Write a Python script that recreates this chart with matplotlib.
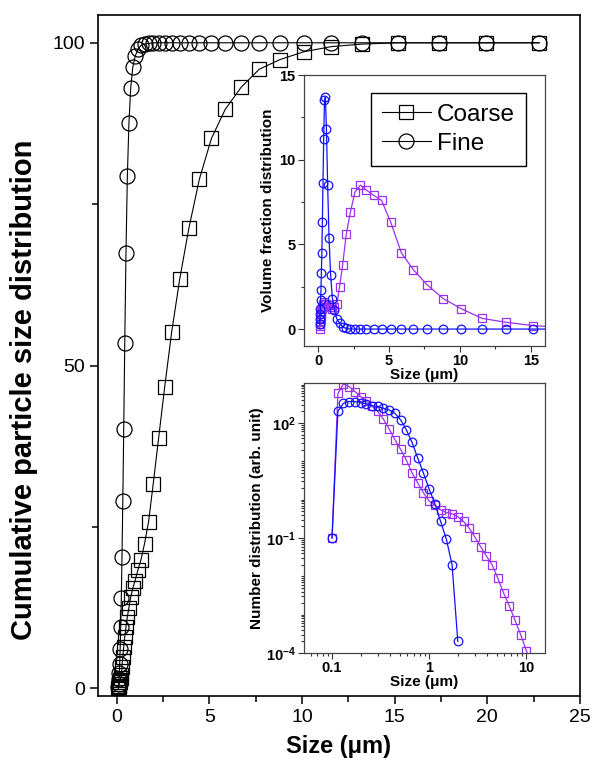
import numpy as np
import matplotlib
matplotlib.use("Agg")
import matplotlib.pyplot as plt
from matplotlib.ticker import MultipleLocator, LogLocator, NullFormatter, FixedLocator, FixedFormatter

plt.rcParams['font.family'] = ['Liberation Sans', 'DejaVu Sans']
plt.rcParams['mathtext.fontset'] = 'custom'
plt.rcParams['mathtext.rm'] = 'Liberation Sans'
plt.rcParams['mathtext.bf'] = 'Liberation Sans:bold'

# particle size channels (um)
size = [0.100, 0.115, 0.131, 0.150, 0.172, 0.197, 0.226, 0.259, 0.296, 0.339,
        0.389, 0.445, 0.510, 0.584, 0.669, 0.766, 0.877, 1.005, 1.151, 1.318,
        1.510, 1.729, 1.981, 2.269, 2.599, 2.976, 3.409, 3.905, 4.472, 5.122,
        5.867, 6.720, 7.697, 8.816, 10.097, 11.565, 13.246, 15.172, 17.377, 19.904,
        22.797]

# cumulative distribution (%)
fine_cum = [0.2, 0.7, 1.4, 2.4, 3.8, 6.1, 9.5, 14.0, 20.4, 29.0,
            40.1, 53.5, 67.4, 79.3, 87.5, 93.0, 96.2, 97.9, 99.0, 99.6,
            99.8, 99.9, 100, 100, 100, 100, 100, 100, 100, 100,
            100, 100, 100, 100, 100, 100, 100, 100, 100, 100,
            100]
coarse_cum = [0.0, 0.2, 0.4, 0.7, 1.0, 1.3, 1.6, 2.0, 3.3, 4.9,
              6.4, 8.0, 9.5, 11.1, 12.5, 14.1, 15.5, 16.7, 18.3, 19.9,
              22.4, 25.8, 31.7, 38.7, 46.7, 55.2, 63.4, 71.3, 78.9, 85.2,
              89.7, 93.1, 95.9, 97.4, 98.6, 99.4, 99.8, 100, 100, 100,
              100]

# volume fraction distribution (%)
fine_vol = [0.3, 0.6, 0.9, 1.2, 1.7, 2.3, 3.3, 4.5, 6.3, 8.6,
            11.2, 13.5, 13.7, 11.8, 8.5, 5.4, 3.2, 1.8, 1.1, 0.6,
            0.35, 0.12, 0.04, 0, 0, 0, 0, 0, 0, 0,
            0, 0, 0, 0, 0, 0, 0, 0, 0, 0,
            0]
coarse_vol = [0.0, 0.2, 0.3, 0.4, 0.6, 0.8, 1.0, 1.2, 1.3, 1.5,
              1.5, 1.6, 1.5, 1.5, 1.4, 1.4, 1.3, 1.2, 1.3, 1.5,
              2.5, 3.8, 5.6, 6.9, 8.1, 8.5, 8.2, 7.9, 7.6, 6.3,
              4.5, 3.5, 2.6, 1.8, 1.2, 0.63, 0.4, 0.2, 0.1, 0.05,
              0.02]

# number distribution (arb. unit)
fine_num = [1e-1, 204, 324, 363, 363, 339, 316, 282, 269, 240,
            219, 178, 120, 66, 31, 12, 4.9, 1.86, 0.78, 0.27,
            0.093, 0.020, 2.0e-4]
coarse_num = [1e-1, 589, 1047, 891, 661, 490, 380, 269, 200, 126,
              69, 37, 20.4, 10.7, 5.0, 2.7, 1.51, 0.91, 0.72, 0.54,
              0.46, 0.43, 0.36, 0.27, 0.18, 0.105, 0.059, 0.034, 0.020, 0.0089,
              0.0037, 0.0017, 7.2e-4, 3.0e-4, 1.15e-4, 4e-5]

blue = '#1010ff'
purple = '#9a30f0'

fig = plt.figure(figsize=(5.92, 7.67), dpi=100)

# main plot
ax = fig.add_axes([0.1655, 0.0925, 0.8142, 0.8879])
l1, = ax.plot(size, coarse_cum, color='k', lw=0.8, marker='s', ms=10, mfc='none', mec='k', mew=0.9)
l2, = ax.plot(size, fine_cum, color='k', lw=0.8, marker='o', ms=10.8, mfc='none', mec='k', mew=0.9)
ax.set_xlim(-1, 25)
ax.set_ylim(-1.2, 104.3)
ax.xaxis.set_major_locator(MultipleLocator(5))
ax.xaxis.set_minor_locator(MultipleLocator(2.5))
ax.yaxis.set_major_locator(MultipleLocator(50))
ax.yaxis.set_minor_locator(MultipleLocator(25))
ax.tick_params(which='both', direction='out', top=False, right=False, width=1.1)
ax.tick_params(which='major', length=6, labelsize=14)
ax.tick_params(which='minor', length=4)
for s in ax.spines.values():
    s.set_linewidth(1.2)
ax.set_xlabel('Size (μm)', fontsize=17, fontweight='bold', labelpad=6)
ax.set_ylabel('Cumulative particle size distribution', fontsize=21, fontweight='bold')
ax.yaxis.set_label_coords(-0.125, 0.45)

def style_inset(a):
    for s in a.spines.values():
        s.set_linewidth(0.9)
        s.set_color('#444444')
    a.tick_params(which='both', direction='out', top=False, right=False, width=0.8, color='#333333')
    a.tick_params(which='major', length=4, labelsize=10.5, pad=2)
    a.tick_params(which='minor', length=2.5)

# top inset: volume fraction
ins1 = fig.add_axes([0.5135, 0.5489, 0.4071, 0.3533])
ins1.plot(size, coarse_vol, color=purple, lw=0.9, marker='s', ms=6, mfc='none', mec=purple, mew=0.9)
ins1.plot(size, fine_vol, color=blue, lw=0.9, marker='o', ms=6.2, mfc='none', mec=blue, mew=0.9)
ins1.set_xlim(-1, 16)
ins1.set_ylim(-1, 15)
ins1.xaxis.set_major_locator(MultipleLocator(5))
ins1.xaxis.set_minor_locator(MultipleLocator(2.5))
ins1.yaxis.set_major_locator(MultipleLocator(5))
ins1.yaxis.set_minor_locator(MultipleLocator(2.5))
style_inset(ins1)
plt.setp(ins1.get_xticklabels() + ins1.get_yticklabels(), fontweight='bold')
ins1.set_xlabel('Size (μm)', fontsize=11, fontweight='bold', labelpad=0)
ins1.set_ylabel('Volume fraction distribution', fontsize=11, fontweight='bold', labelpad=3)

leg = ins1.legend([l1, l2], ['Coarse', 'Fine'], loc='upper left',
                  bbox_to_anchor=(371 / 592, 1 - 92.7 / 767), bbox_transform=fig.transFigure,
                  fontsize=17.5, frameon=True, fancybox=False, edgecolor='k', framealpha=1,
                  handlelength=2.0, handletextpad=0.25, borderpad=0.45, labelspacing=0.3,
                  borderaxespad=0)
leg.get_frame().set_linewidth(1.0)

# bottom inset: number distribution
ins2 = fig.add_axes([0.5135, 0.1486, 0.4071, 0.352])
ins2.plot(size[:len(coarse_num)], coarse_num, color=purple, lw=0.9, marker='s', ms=6, mfc='none', mec=purple, mew=0.9)
ins2.plot(size[:len(fine_num)], fine_num, color=blue, lw=0.9, marker='o', ms=6.2, mfc='none', mec=blue, mew=0.9)
ins2.set_xscale('log')
ins2.set_yscale('log')
ins2.set_xlim(0.0514, 15.7)
ins2.set_ylim(1e-4, 1.1e3)
ins2.xaxis.set_major_locator(FixedLocator([0.1, 1, 10]))
ins2.xaxis.set_major_formatter(FixedFormatter(['0.1', '1', '10']))
ins2.xaxis.set_minor_locator(LogLocator(base=10, subs=np.arange(2, 10), numticks=20))
ins2.xaxis.set_minor_formatter(NullFormatter())
ins2.yaxis.set_major_locator(FixedLocator([1e-4, 1e-1, 1e2]))
ins2.yaxis.set_major_formatter(FixedFormatter([r'$\mathbf{10^{-4}}$', r'$\mathbf{10^{-1}}$', r'$\mathbf{10^{2}}$']))
ins2.yaxis.set_minor_locator(LogLocator(base=10, subs=np.arange(1, 10), numticks=30))
ins2.yaxis.set_minor_formatter(NullFormatter())
style_inset(ins2)
plt.setp(ins2.get_xticklabels(), fontweight='bold')
ins2.set_xlabel('Size (μm)', fontsize=11, fontweight='bold', labelpad=0)
ins2.set_ylabel('Number distribution (arb. unit)', fontsize=11, fontweight='bold', labelpad=1)

fig.savefig('out.png', dpi=100)
